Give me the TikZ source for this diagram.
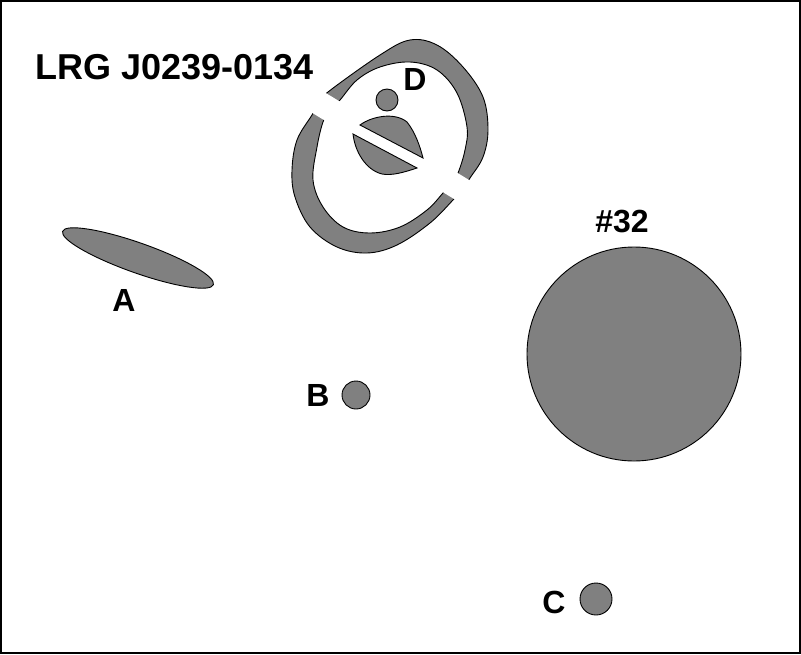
\documentclass[tikz,border=0pt]{standalone}
\usepackage{fontspec}
\setmainfont{Liberation Sans}
\begin{document}
\begin{tikzpicture}[x=1pt,y=-1pt,
  blob/.style={draw=black,line width=0.9pt,fill=objgray},
  lbl/.style={font=\fontsize{32}{32}\selectfont\bfseries,inner sep=0pt},
]
\definecolor{objgray}{RGB}{128,128,128}
\useasboundingbox (0,0) rectangle (801,654);
\draw[line width=2pt] (1,1) rectangle (800,653);

% ring (outer and inner boundaries, even-odd)
\path[blob,even odd rule]
  plot[smooth cycle,tension=0.6] coordinates {
    (328,92) (380,55) (410,40) (437,45) (463,67) (483,97) (488,130) (483,157) (470,178)
    (462,190) (453,200) (430,223) (397,245) (367,253) (337,247) (310,227) (295,197)
    (292,170) (297,140) (312,115) (319,103)}
  plot[smooth cycle,tension=0.6] coordinates {
    (340,100) (357,80) (380,67) (410,62) (437,70) (457,93) (467,127) (465,150) (458,173)
    (451,184) (443,193) (427,210) (400,227) (370,233) (343,227) (323,207) (313,180)
    (317,147) (323,122) (330,110)};
% white cut through the ring
\fill[white] (302.5,107) -- (314.9,86.4) -- (479.5,186.3) -- (467.1,206.9) -- cycle;

% central object, cut in two
\path[blob] (360,125) .. controls (372,116) and (395,112) .. (407,122)
  .. controls (415,132) and (420,146) .. (423,158) -- cycle;
\path[blob] (353,134) -- (417,168) .. controls (405,172) and (392,176) .. (382,174)
  .. controls (366,170) and (355,152) .. (353,134) -- cycle;
\node[blob,circle,minimum size=22pt,inner sep=0pt] (d) at (387,100) {};

% other objects
\path[blob] (138,258) ellipse [x radius=80, y radius=15, rotate=-19.5];
\node[blob,circle,minimum size=214pt,inner sep=0pt] (o32) at (634,354) {};
\node[blob,circle,minimum size=28pt,inner sep=0pt] (b) at (356,395) {};
\node[blob,circle,minimum size=32pt,inner sep=0pt] (c) at (596,599) {};

% labels
\node[lbl,font=\fontsize{36}{36}\selectfont\bfseries,anchor=west] (title) at (35,67) {LRG J0239-0134};
\node[lbl] (ld) at (415,79) {D};
\node[lbl] (l32) at (622,222) {\#32};
\node[lbl] (la) at (124,300) {A};
\node[lbl] (lb) at (318,395) {B};
\node[lbl] (lc) at (554,602) {C};
\end{tikzpicture}
\end{document}
